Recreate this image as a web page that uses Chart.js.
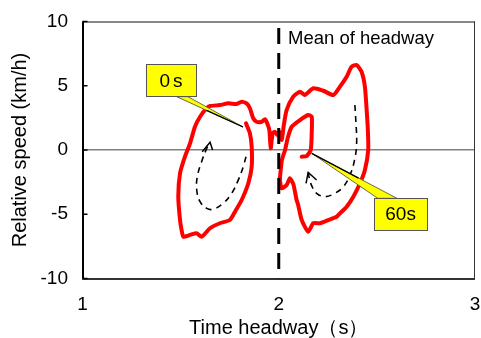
<!DOCTYPE html>
<html><head><meta charset="utf-8">
<script src="https://cdn.jsdelivr.net/npm/chart.js@4/dist/chart.umd.min.js"></script>
<style>html,body{margin:0;padding:0;background:#fff;}#wrap{width:481px;height:338px;position:relative;}</style>
</head><body><div id="wrap"><canvas id="c" width="481" height="338"></canvas></div>
<script>
// Trajectory of relative speed vs time headway (0s -> 60s)
const headway = [1.833,1.853,1.862,1.862,1.845,1.811,1.777,1.751,1.700,1.650,
1.607,1.582,1.548,1.514,1.505,1.497,1.488,1.497,1.522,1.548,
1.573,1.599,1.633,1.650,1.700,1.743,1.786,1.811,1.836,1.853,
1.870,1.887,1.913,1.930,1.941,1.952,1.959,1.969,1.981,1.992,
2.003,2.015,2.026,2.040,2.074,2.108,2.133,2.176,2.227,2.278,
2.312,2.346,2.371,2.397,2.422,2.439,2.448,2.454,2.456,2.439,
2.414,2.380,2.346,2.312,2.295,2.252,2.210,2.176,2.150,2.117,
2.099,2.091,2.079,2.074,2.057,2.040,2.015,2.006,2.010,2.016,
2.032,2.047,2.066,2.108,2.150,2.168,2.168,2.163,2.142,2.117];
const relSpeed = [2.08,1.30,0.26,-1.30,-2.59,-3.89,-4.80,-5.45,-5.70,-6.09,
-6.75,-6.48,-6.61,-6.75,-6.23,-5.45,-3.63,-1.81,-0.52,0.52,
1.81,2.59,3.25,3.42,3.50,3.63,3.58,3.76,3.63,3.25,
2.47,2.20,2.20,2.39,2.08,1.56,0.13,1.30,1.42,1.17,
1.42,0.78,1.95,3.11,4.15,4.54,4.28,4.80,4.61,4.28,
4.93,5.70,6.48,6.61,6.09,4.93,3.11,1.56,0.00,-1.56,
-2.59,-3.63,-4.41,-4.93,-5.19,-5.45,-5.70,-5.70,-6.36,-5.45,
-4.28,-3.89,-2.96,-2.65,-2.20,-2.72,-2.98,-2.33,-1.56,-0.78,
0.00,1.01,1.81,2.33,2.72,2.59,1.30,0.00,-0.47,-0.52];

// Direction arrows (dashed) and their heads
const leftArrowX = [1.833,1.819,1.794,1.760,1.717,1.666,1.633,1.599,1.582,1.585,1.607,1.633,1.650];
const leftArrowY = [-0.52,-1.30,-2.33,-3.37,-4.15,-4.61,-4.54,-4.02,-3.11,-2.08,-0.91,0.13,0.60];
const leftHeadX = [1.610,1.650,1.663];
const leftHeadY = [-0.13,0.60,0.00];
const rightArrowX = [2.388,2.393,2.397,2.388,2.363,2.329,2.286,2.235,2.193,2.170,2.156,2.150];
const rightArrowY = [3.50,2.20,0.65,-0.65,-1.95,-2.86,-3.37,-3.63,-3.37,-2.85,-2.20,-1.74];
const rightHeadX = [2.139,2.150,2.193];
const rightHeadY = [-2.59,-1.74,-2.33];

const meanHeadway = 2;
const meanLineY = [9.5, -10];
const xTicks = [1, 2, 3];
const yTicks = [-10, -5, 0, 5, 10];
const labels = { x: 'Time headway（s）', y: 'Relative speed (km/h)', mean: 'Mean of headway' };

const FONT = "'Liberation Sans', Arial, Helvetica, sans-serif";

function pts(xs, ys) { return xs.map((x, i) => ({ x: x, y: ys[i] })); }

const callouts = [
  { text: '0s', spacing: 3, box: [1.323, 6.67, 1.578, 4.15], tip: [1.818, 1.79], base: [1.480, 1.537], side: 'bottom', dark: 0 },
  { text: '60s', spacing: 0, box: [2.485, -3.76, 2.757, -6.23], tip: [2.168, -0.26], base: [2.505, 2.602], side: 'top', dark: 1 }
];
const meanLabelPos = [2.047, 8.25];

const decor = {
  id: 'decor',
  beforeDatasetsDraw(chart) {
    const { ctx, chartArea: a, scales } = chart;
    ctx.save();
    ctx.strokeStyle = '#111';
    ctx.lineWidth = 1;
    ctx.beginPath();
    ctx.moveTo(a.left, a.top + 0.5); ctx.lineTo(a.right, a.top + 0.5);
    ctx.stroke();
    ctx.strokeStyle = '#333';
    ctx.beginPath();
    ctx.moveTo(a.right - 0.5, a.top); ctx.lineTo(a.right - 0.5, a.bottom);
    ctx.stroke();
    ctx.strokeStyle = '#000';
    ctx.lineWidth = 2;
    ctx.beginPath();
    ctx.moveTo(Math.round(a.left), a.top); ctx.lineTo(Math.round(a.left), a.bottom + 1);
    ctx.stroke();
    ctx.strokeStyle = '#333';
    ctx.beginPath();
    ctx.moveTo(a.left, Math.round(a.bottom)); ctx.lineTo(a.right, Math.round(a.bottom));
    ctx.stroke();
    ctx.strokeStyle = '#000';
    ctx.lineWidth = 1.5;
    for (const v of yTicks) {
      const py = scales.y.getPixelForValue(v);
      ctx.beginPath(); ctx.moveTo(a.left, py); ctx.lineTo(a.left + 5, py); ctx.stroke();
    }
    ctx.restore();
  },
  afterDatasetsDraw(chart) {
    const { ctx, scales } = chart;
    const X = v => scales.x.getPixelForValue(v), Y = v => scales.y.getPixelForValue(v);
    ctx.save();
    ctx.fillStyle = '#000';
    ctx.font = '18.5px ' + FONT;
    ctx.textAlign = 'left'; ctx.textBaseline = 'alphabetic';
    ctx.fillText(labels.mean, X(meanLabelPos[0]), Y(meanLabelPos[1]));
    for (const c of callouts) {
      const l = X(c.box[0]), t = Y(c.box[1]), r = X(c.box[2]), b = Y(c.box[3]);
      const tx = X(c.tip[0]), ty = Y(c.tip[1]);
      const ey = c.side === 'bottom' ? b : t;
      const b1 = X(c.base[0]), b2 = X(c.base[1]);
      ctx.beginPath();
      ctx.moveTo(b1, ey); ctx.lineTo(tx, ty); ctx.lineTo(b2, ey); ctx.closePath();
      ctx.fillStyle = '#ffff00'; ctx.fill();
      ctx.strokeStyle = '#6b6b3a'; ctx.lineWidth = 1; ctx.stroke();
      ctx.strokeStyle = '#000'; ctx.lineWidth = 1.3;
      ctx.beginPath();
      const ex = c.dark ? b2 : b1;
      ctx.moveTo(tx, ty); ctx.lineTo(tx + (ex - tx) * 0.55, ty + (ey - ty) * 0.55); ctx.stroke();
      ctx.fillStyle = '#ffff00';
      ctx.fillRect(l, t, r - l, b - t);
      ctx.strokeStyle = '#555'; ctx.lineWidth = 1;
      ctx.strokeRect(Math.round(l) + 0.5, Math.round(t) + 0.5, Math.round(r - l), Math.round(b - t));
      ctx.fillStyle = '#000';
      ctx.font = '19px ' + FONT;
      ctx.letterSpacing = c.spacing + 'px';
      ctx.textAlign = 'center'; ctx.textBaseline = 'middle';
      ctx.fillText(c.text, (l + r) / 2 + c.spacing / 2, (t + b) / 2 + 1);
      ctx.letterSpacing = '0px';
    }
    ctx.restore();
  }
};

new Chart(document.getElementById('c'), {
  type: 'scatter',
  data: {
    datasets: [
      { data: pts([meanHeadway, meanHeadway], meanLineY), showLine: true, borderColor: '#000', borderWidth: 3, borderDash: [16, 9], pointRadius: 0 },
      { data: pts(leftHeadX, leftHeadY), showLine: true, borderColor: '#000', borderWidth: 1.5, pointRadius: 0 },
      { data: pts(rightHeadX, rightHeadY), showLine: true, borderColor: '#000', borderWidth: 1.5, pointRadius: 0 },
      { data: pts(leftArrowX, leftArrowY), showLine: true, borderColor: '#000', borderWidth: 1.6, borderDash: [6, 5], pointRadius: 0, tension: 0.4 },
      { data: pts(rightArrowX, rightArrowY), showLine: true, borderColor: '#000', borderWidth: 1.6, borderDash: [6, 5], pointRadius: 0, tension: 0.4 },
      { data: pts(headway, relSpeed), showLine: true, borderColor: '#ff0000', borderWidth: 4, pointRadius: 0, tension: 0.2, borderJoinStyle: 'round', borderCapStyle: 'round' }
    ]
  },
  options: {
    responsive: false,
    animation: false,
    events: [],
    layout: { padding: { left: 0, top: 21.5, right: 6, bottom: 0 } },
    plugins: { legend: { display: false }, tooltip: { enabled: false } },
    scales: {
      x: {
        type: 'linear', min: 1, max: 3,
        afterBuildTicks: s => { s.ticks = xTicks.map(v => ({ value: v })); },
        ticks: { font: { size: 19, family: FONT }, color: '#000', padding: 7, maxRotation: 0 },
        grid: { display: false },
        border: { display: false },
        title: { display: true, text: labels.x, color: '#000', font: { size: 20, family: FONT, lineHeight: 1 }, padding: { top: 0, bottom: 0 } },
        afterFit: s => { s.height = 59.5; s.paddingLeft = 0; s.paddingRight = 0; }
      },
      y: {
        type: 'linear', min: -10, max: 10,
        afterBuildTicks: s => { s.ticks = yTicks.map(v => ({ value: v })); },
        ticks: { font: { size: 19, family: FONT }, color: '#000', padding: 14.5 },
        grid: { drawTicks: false, lineWidth: 1.5, color: c => (c.tick && c.tick.value === 0) ? '#808080' : 'rgba(0,0,0,0)' },
        border: { display: false },
        title: { display: true, text: labels.y, color: '#000', font: { size: 20, family: FONT, lineHeight: 1 }, padding: { top: 10, bottom: 0 } },
        afterFit: s => { s.width = 82.5; s.paddingTop = 0; s.paddingBottom = 0; }
      }
    }
  },
  plugins: [decor]
});
</script>
</body></html>
